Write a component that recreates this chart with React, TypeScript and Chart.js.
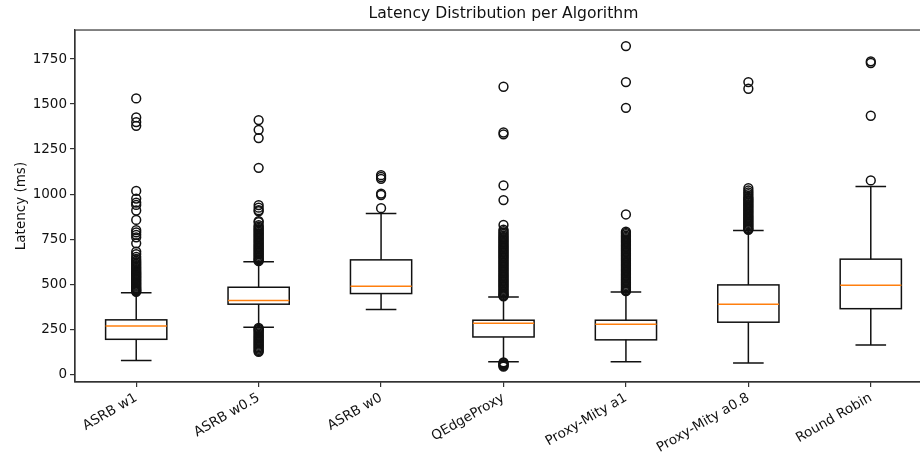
import { useEffect, useRef } from 'react';
import { Chart, registerables } from 'chart.js';

Chart.register(...registerables);

const categories = ['ASRB w1', 'ASRB w0.5', 'ASRB w0', 'QEdgeProxy', 'Proxy-Mity a1', 'Proxy-Mity a0.8', 'Round Robin'];
const q1 = [194, 389, 448, 207, 191, 289, 364];
const medians = [268, 409, 489, 283, 278, 389, 494];
const q3 = [302, 483, 635, 300, 300, 496, 639];
const whiskerLow = [76, 261, 359, 70, 70, 63, 163];
const whiskerHigh = [453, 624, 892, 429, 457, 798, 1042];
const yTicks = [0, 250, 500, 750, 1000, 1250, 1500, 1750];

const outliersAsrbW1 = [458, 462, 466, 470, 475, 480, 486, 492, 498, 504, 510, 516, 522, 528, 534, 540, 546, 552, 558, 564, 570, 577, 584, 591, 598, 606, 614, 622, 630, 640, 652, 667, 681, 727, 760, 774, 788, 800, 857, 909, 940, 953, 975, 1018, 1379, 1400, 1426, 1531];
const outliersAsrbW05 = [628, 633, 638, 644, 651, 658, 665, 672, 679, 686, 693, 700, 707, 714, 721, 728, 735, 742, 749, 756, 763, 770, 777, 784, 791, 798, 805, 812, 820, 828, 845, 850, 905, 911, 925, 939, 1146, 1311, 1357, 1411, 257, 252, 247, 241, 234, 227, 220, 213, 206, 199, 192, 185, 178, 171, 164, 157, 150, 143, 136, 129, 124];
const outliersAsrbW0 = [922, 995, 1003, 1085, 1095, 1105];
const outliersQEdge = [433, 437, 442, 448, 455, 462, 469, 476, 483, 490, 497, 504, 511, 518, 525, 532, 539, 546, 553, 560, 567, 574, 581, 588, 595, 602, 609, 616, 623, 630, 637, 644, 651, 658, 665, 672, 679, 686, 693, 700, 707, 714, 721, 728, 735, 742, 749, 756, 763, 770, 778, 786, 795, 803, 829, 967, 1048, 1332, 1342, 1596, 66, 61, 56, 52, 47, 42];
const outliersPmA1 = [461, 465, 469, 476, 483, 490, 497, 504, 511, 518, 525, 532, 539, 546, 553, 560, 567, 574, 581, 588, 595, 602, 609, 616, 623, 630, 637, 644, 651, 658, 665, 672, 679, 686, 693, 700, 707, 714, 721, 728, 735, 742, 749, 756, 763, 770, 778, 785, 792, 887, 1479, 1622, 1822];
const outliersPmA08 = [802, 806, 812, 819, 826, 833, 840, 847, 854, 861, 868, 875, 882, 889, 896, 903, 910, 917, 924, 931, 938, 945, 952, 959, 966, 973, 980, 990, 1000, 1010, 1020, 1033, 1585, 1622];
const outliersRoundRobin = [1076, 1435, 1728, 1737];

const outliers = [outliersAsrbW1, outliersAsrbW05, outliersAsrbW0, outliersQEdge, outliersPmA1, outliersPmA08, outliersRoundRobin];

const W = 944;
const H = 452;
const FONT = 'DejaVu Sans';

export default function App() {
  const ref = useRef<HTMLCanvasElement>(null);

  useEffect(() => {
    if (!ref.current) return;
    const boxHalf = 0.25;
    const capHalf = 0.125;

    const boxPlugin = {
      id: 'boxes',
      beforeDatasetsDraw(chart: any) {
        const { ctx } = chart;
        const x = chart.scales.x;
        const y = chart.scales.y;
        ctx.save();
        ctx.lineWidth = 1.5;
        for (let i = 0; i < categories.length; i++) {
          const cx = x.getPixelForValue(i + 1);
          const hw = x.getPixelForValue(i + 1 + boxHalf) - cx;
          const cw = x.getPixelForValue(i + 1 + capHalf) - cx;
          const yq1 = y.getPixelForValue(q1[i]);
          const yq3 = y.getPixelForValue(q3[i]);
          const ylo = y.getPixelForValue(whiskerLow[i]);
          const yhi = y.getPixelForValue(whiskerHigh[i]);
          const ymed = y.getPixelForValue(medians[i]);
          ctx.strokeStyle = '#111';
          ctx.strokeRect(cx - hw, yq3, 2 * hw, yq1 - yq3);
          ctx.beginPath();
          ctx.moveTo(cx, yq1);
          ctx.lineTo(cx, ylo);
          ctx.moveTo(cx, yq3);
          ctx.lineTo(cx, yhi);
          ctx.moveTo(cx - cw, ylo);
          ctx.lineTo(cx + cw, ylo);
          ctx.moveTo(cx - cw, yhi);
          ctx.lineTo(cx + cw, yhi);
          ctx.stroke();
          ctx.strokeStyle = '#ff7f0e';
          ctx.beginPath();
          ctx.moveTo(cx - hw, ymed);
          ctx.lineTo(cx + hw, ymed);
          ctx.stroke();
        }
        ctx.restore();
      },
    };

    const framePlugin = {
      id: 'frame',
      afterDraw(chart: any) {
        const { ctx, chartArea: a } = chart;
        ctx.save();
        ctx.strokeStyle = '#333';
        ctx.lineWidth = 1.2;
        ctx.strokeRect(a.left, a.top, a.right - a.left, a.bottom - a.top);
        ctx.restore();
      },
    };

    const points: { x: number; y: number }[] = [];
    outliers.forEach((list, i) => list.forEach((v) => points.push({ x: i + 1, y: v })));

    const tickFont = { family: FONT, size: 13.5 };

    const chart = new Chart(ref.current, {
      type: 'scatter',
      data: {
        datasets: [
          {
            data: points,
            pointStyle: 'circle',
            pointRadius: 4.4,
            borderWidth: 1.5,
            borderColor: '#111',
            backgroundColor: 'rgba(0,0,0,0)',
          },
        ],
      },
      options: {
        responsive: false,
        animation: false,
        events: [],
        layout: { padding: { left: 0, right: 12, top: 0, bottom: 0 } },
        plugins: {
          legend: { display: false },
          tooltip: { enabled: false },
          title: {
            display: true,
            text: 'Latency Distribution per Algorithm',
            fullSize: false,
            color: '#111',
            font: { family: FONT, size: 15.6, weight: 'normal' },
            padding: { top: 5, bottom: 6.3 },
          },
        },
        scales: {
          x: {
            type: 'linear',
            min: 0.5,
            max: 7.5,
            afterBuildTicks: (s: any) => {
              s.ticks = categories.map((_, i) => ({ value: i + 1 }));
            },
            afterFit: (s: any) => {
              s.height = 70;
            },
            ticks: {
              callback: (_v: any, i: number) => categories[i] ?? '',
              autoSkip: false,
              minRotation: 30,
              maxRotation: 30,
              color: '#111',
              font: tickFont,
              padding: 3,
            },
            grid: { display: true, drawOnChartArea: false, drawTicks: true, tickLength: 5, color: '#333', lineWidth: 1.2 },
            border: { display: true, color: '#333', width: 1.2 },
          },
          y: {
            type: 'linear',
            min: -43,
            max: 1911,
            afterBuildTicks: (s: any) => {
              s.ticks = yTicks.map((v) => ({ value: v }));
            },
            afterFit: (s: any) => {
              s.width = 75;
            },
            ticks: { color: '#111', font: tickFont, padding: 3, callback: (v: any) => String(v) },
            grid: { display: true, drawOnChartArea: false, drawTicks: true, tickLength: 5, color: '#333', lineWidth: 1.2 },
            border: { display: true, color: '#333', width: 1.2 },
            title: {
              display: true,
              text: 'Latency (ms)',
              color: '#111',
              font: tickFont,
              padding: { top: 13, bottom: 0 },
            },
          },
        },
      },
      plugins: [boxPlugin, framePlugin],
    } as any);

    return () => chart.destroy();
  }, []);

  return (
    <div style={{ position: 'fixed', left: 0, top: 0, width: 920, height: 452, overflow: 'hidden', background: '#fff' }}>
      <canvas ref={ref} width={W} height={H} style={{ width: W, height: H, display: 'block' }} />
    </div>
  );
}
